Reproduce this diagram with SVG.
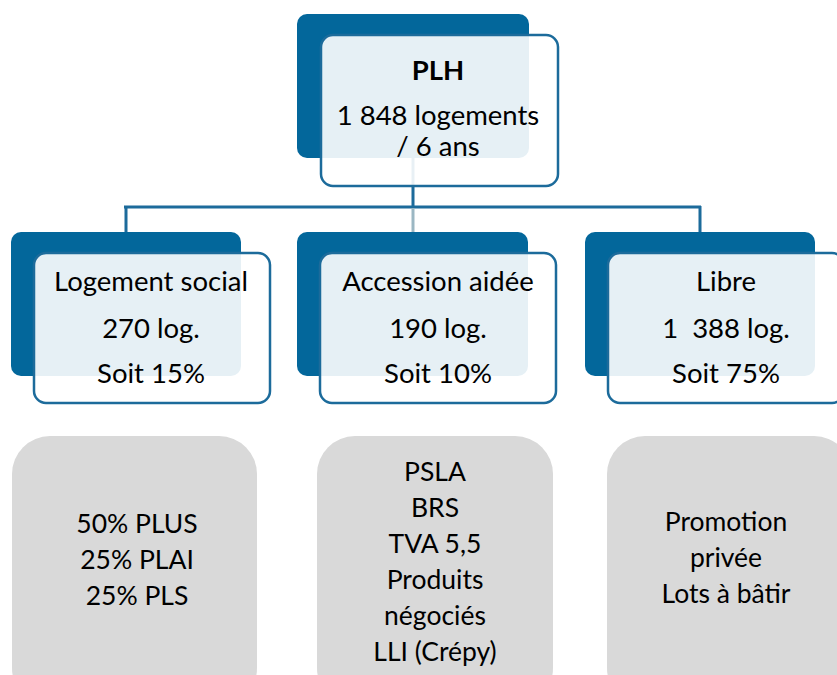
<svg xmlns="http://www.w3.org/2000/svg" width="837" height="675" viewBox="0 0 837 675">
<style>
.dark{fill:#03679b}
.box{fill:#ffffff;fill-opacity:0.9;stroke:#1c6b9b;stroke-width:2.5}
.gray{fill:#d9d9d9}
.conn{stroke:#1c6b9b;stroke-width:3;fill:none}
text{font-family:Lato,"Liberation Sans",sans-serif;font-size:27.5px;fill:#000;text-anchor:middle}
.b{font-weight:bold}
.s{font-size:26.5px}
</style>
<rect width="837" height="675" fill="#ffffff"/>
<g id="connectors">
<path class="conn" d="M413,158 V207 M124,207 H701 M126,206 V232 M700,206 V232"/>
<path d="M413,208 V232" stroke="#9bb7c3" stroke-width="3" fill="none"/>
</g>
<g id="plh">
<rect class="dark" x="297" y="14" width="232" height="144" rx="10"/>
<rect class="box" x="321" y="35" width="237" height="151" rx="12"/>
<text class="b" x="438" y="80">PLH</text>
<text x="438" y="125">1 848 logements</text>
<text x="438" y="156">/ 6 ans</text>
</g>
<g id="social">
<rect class="dark" x="11" y="232" width="230" height="144" rx="10"/>
<rect class="box" x="34" y="253" width="236" height="150" rx="12"/>
<text x="151" y="291">Logement social</text>
<text x="151" y="338">270 log.</text>
<text x="151" y="383">Soit 15%</text>
</g>
<g id="accession">
<rect class="dark" x="297" y="232" width="231" height="144" rx="10"/>
<rect class="box" x="320" y="253" width="236" height="150" rx="12"/>
<text x="438" y="291">Accession aidée</text>
<text x="438" y="338">190 log.</text>
<text x="438" y="383">Soit 10%</text>
</g>
<g id="libre">
<rect class="dark" x="585" y="232" width="230" height="144" rx="10"/>
<rect class="box" x="608" y="253" width="236" height="150" rx="12"/>
<text x="726" y="291">Libre</text>
<text x="726" y="338" xml:space="preserve">1  388 log.</text>
<text x="726" y="383">Soit 75%</text>
</g>
<g id="detail-social">
<rect class="gray" x="12" y="436" width="245" height="270" rx="38"/>
<text class="s" x="137" y="533">50% PLUS</text>
<text class="s" x="137" y="569">25% PLAI</text>
<text class="s" x="137" y="605">25% PLS</text>
</g>
<g id="detail-accession">
<rect class="gray" x="317" y="436" width="236" height="270" rx="38"/>
<text class="s" x="435" y="481">PSLA</text>
<text class="s" x="435" y="517">BRS</text>
<text class="s" x="435" y="553">TVA 5,5</text>
<text class="s" x="435" y="589">Produits</text>
<text class="s" x="435" y="625">négociés</text>
<text class="s" x="435" y="661">LLI (Crépy)</text>
</g>
<g id="detail-libre">
<rect class="gray" x="607" y="436" width="245" height="270" rx="38"/>
<text class="s" x="726" y="531">Promotion</text>
<text class="s" x="726" y="567">privée</text>
<text class="s" x="726" y="603">Lots à bâtir</text>
</g>
</svg>
